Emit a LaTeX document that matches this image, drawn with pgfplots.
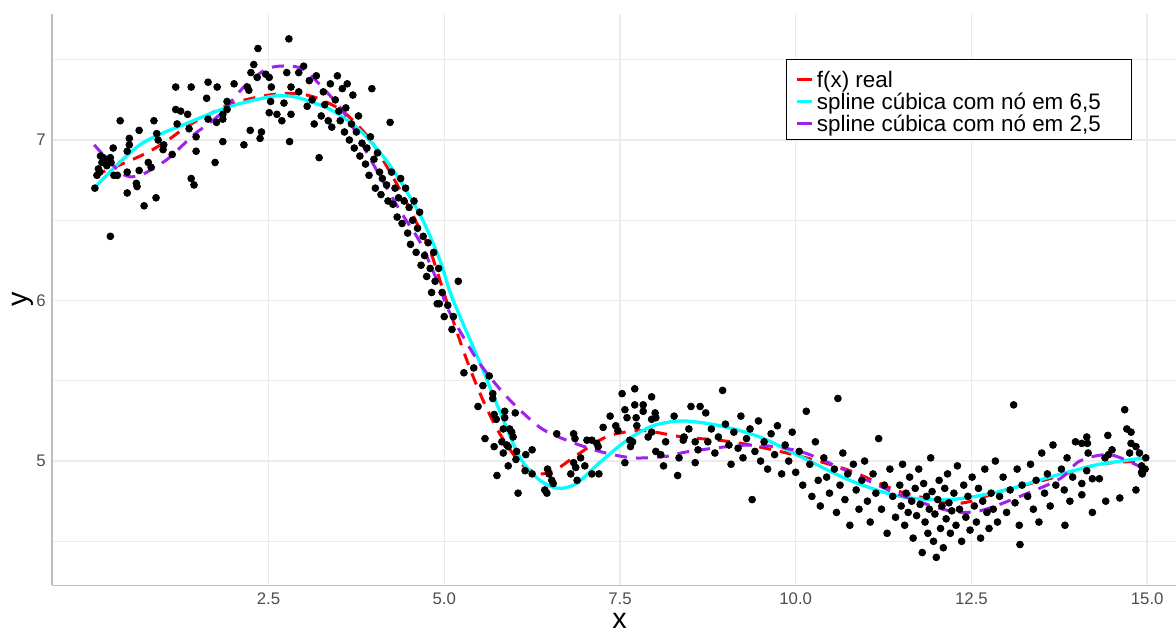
\documentclass[border=0pt]{standalone}
\usepackage{fontspec}
\setmainfont{Liberation Sans}
\usepackage{pgfplots}
\usepackage{pgfplotstable}
\pgfplotsset{compat=1.18}
\definecolor{gridmaj}{RGB}{235,235,235}
\definecolor{axisgray}{RGB}{190,190,190}
\definecolor{ticktext}{RGB}{77,77,77}
\definecolor{rpurple}{RGB}{160,32,240}
\definecolor{rcyan}{RGB}{0,255,255}
\definecolor{rred}{RGB}{255,0,0}

\pgfplotstableread{
x y
0.03 6.70
0.06 6.78
0.08 6.82
0.10 6.80
0.11 6.90
0.13 6.86
0.15 6.89
0.17 6.88
0.20 6.84
0.25 6.89
0.26 6.86
0.29 6.95
0.25 6.40
0.30 6.78
0.35 6.78
0.39 7.12
0.49 6.80
0.52 7.01
0.52 6.97
0.49 6.93
0.49 6.67
0.63 6.71
0.62 6.73
0.66 7.06
0.66 6.81
0.73 6.59
0.79 6.86
0.83 6.83
0.87 7.12
0.90 6.64
0.91 7.04
0.93 7.00
1.00 6.94
1.01 6.97
1.13 6.91
1.18 7.33
1.18 7.19
1.20 7.10
1.25 7.18
1.35 7.16
1.37 7.07
1.40 7.33
1.40 6.76
1.44 6.72
1.47 6.93
1.47 7.02
1.62 7.26
1.64 7.36
1.64 7.13
1.74 6.86
1.76 7.11
1.77 7.33
1.85 6.99
1.85 7.13
1.85 7.16
1.91 7.19
1.91 7.24
2.01 7.35
2.15 6.97
2.20 7.33
2.22 7.31
2.24 7.06
2.25 7.42
2.29 7.47
2.34 7.39
2.35 7.57
2.38 7.01
2.40 7.05
2.46 7.41
2.51 7.39
2.51 7.17
2.53 7.24
2.54 7.33
2.62 7.16
2.69 7.12
2.72 7.23
2.76 7.42
2.79 7.63
2.80 6.99
2.82 7.33
2.82 7.16
2.93 7.30
2.93 7.42
3.00 7.46
3.05 7.21
3.08 7.37
3.12 7.25
3.15 7.10
3.18 7.40
3.22 6.89
3.25 7.15
3.28 7.30
3.30 7.22
3.35 7.12
3.38 7.35
3.40 7.08
3.45 7.25
3.48 7.40
3.50 7.18
3.52 7.12
3.55 7.32
3.58 7.05
3.60 7.20
3.62 7.35
3.65 7.00
3.68 7.10
3.70 7.28
3.72 6.95
3.75 7.05
3.78 7.15
3.80 6.90
3.83 6.98
3.88 6.85
3.90 6.95
3.93 6.78
3.95 7.02
3.97 7.32
4.00 6.88
4.02 6.70
4.05 6.92
4.08 6.80
4.10 6.66
4.12 6.76
4.18 6.72
4.20 6.62
4.23 7.11
4.25 6.80
4.27 6.60
4.30 6.70
4.33 6.52
4.35 6.64
4.38 6.76
4.40 6.48
4.43 6.62
4.45 6.70
4.48 6.42
4.50 6.58
4.52 6.35
4.55 6.50
4.57 6.62
4.60 6.30
4.62 6.45
4.65 6.55
4.67 6.22
4.70 6.40
4.72 6.28
4.75 6.15
4.77 6.36
4.80 6.20
4.82 6.05
4.85 6.30
4.87 6.12
4.90 5.98
4.92 6.20
4.97 6.05
5.00 5.90
5.20 6.12
4.93 5.98
5.05 5.97
5.11 5.82
5.13 5.90
5.28 5.55
5.42 5.58
5.64 5.53
5.48 5.34
5.55 5.47
5.69 5.42
5.69 5.39
5.71 5.29
5.74 5.26
5.86 5.31
6.01 5.30
5.86 5.27
5.84 5.20
5.93 5.20
5.58 5.14
5.71 5.09
5.82 5.12
5.89 5.10
5.96 5.18
5.98 5.15
5.84 5.05
5.91 5.09
6.03 5.06
6.16 5.04
6.25 5.07
6.02 5.01
5.91 4.97
5.75 4.91
6.05 4.80
6.15 4.94
6.25 4.92
6.47 4.95
6.49 4.92
6.53 4.88
6.55 4.86
6.43 4.82
6.46 4.80
6.60 5.17
6.84 5.17
6.86 5.14
6.84 4.99
6.87 4.96
6.80 4.92
6.89 4.88
6.94 5.02
7.00 4.97
7.03 5.13
7.10 5.13
7.17 5.11
7.19 5.09
7.10 4.92
7.20 4.92
7.26 5.21
7.36 5.28
7.44 5.22
7.47 5.19
7.53 5.42
7.57 5.32
7.60 5.27
7.71 5.45
7.71 5.35
7.73 5.27
7.83 5.35
7.83 5.31
7.95 5.40
8.00 5.30
7.95 5.26
8.01 5.27
7.74 5.22
7.64 5.13
7.68 5.12
7.65 5.09
7.57 4.99
7.90 5.15
7.95 5.18
8.01 5.06
8.08 5.04
8.27 5.28
8.15 5.12
8.12 4.97
8.32 4.91
8.34 5.02
8.40 5.13
8.41 5.15
8.48 5.20
8.51 5.34
8.57 4.99
8.57 5.12
8.61 5.07
8.64 5.34
8.72 5.30
8.75 5.12
8.80 5.20
8.85 5.05
8.90 5.15
8.96 5.44
9.00 5.23
9.05 5.10
9.08 4.98
9.12 5.18
9.18 5.08
9.22 5.28
9.25 5.02
9.30 5.14
9.35 5.20
9.38 4.76
9.42 5.06
9.47 5.25
9.50 5.00
9.55 5.12
9.60 4.95
9.65 5.17
9.70 5.04
9.74 5.22
9.80 4.92
9.85 5.10
9.90 5.00
9.95 5.18
10.00 4.93
10.05 5.06
10.10 4.85
10.15 5.31
10.20 4.98
10.23 4.78
10.28 5.12
10.32 4.88
10.35 4.72
10.40 5.02
10.44 4.90
10.48 4.80
10.55 4.95
10.58 4.68
10.60 5.39
10.63 4.85
10.67 5.05
10.70 4.76
10.74 4.92
10.77 4.60
10.82 4.98
10.86 4.82
10.90 4.70
10.94 4.88
10.98 5.00
11.02 4.75
11.06 4.62
11.10 4.92
11.14 4.80
11.18 5.14
11.22 4.70
11.26 4.85
11.30 4.55
11.34 4.95
11.38 4.78
11.42 4.65
11.48 4.85
11.50 4.72
11.52 4.98
11.55 4.60
11.57 4.80
11.60 4.68
11.62 4.90
11.65 4.75
11.67 4.52
11.70 4.83
11.72 4.66
11.75 4.95
11.77 4.73
11.80 4.43
11.82 4.86
11.84 4.62
11.86 4.78
11.88 4.55
11.90 4.70
11.92 5.02
11.94 4.81
11.96 4.50
11.98 4.67
12.00 4.40
12.02 4.76
12.04 4.88
12.06 4.58
12.08 4.72
12.10 4.46
12.12 4.83
12.14 4.64
12.16 4.92
12.18 4.74
12.20 4.55
12.22 4.69
12.25 4.80
12.28 4.60
12.30 4.97
12.33 4.70
12.36 4.50
12.39 4.85
12.42 4.65
12.45 4.78
12.48 4.57
12.51 4.90
12.54 4.72
12.57 4.62
12.60 4.83
12.63 4.52
12.66 4.75
12.69 4.95
12.72 4.68
12.75 4.58
12.78 4.80
12.81 4.70
12.84 5.00
12.87 4.62
12.90 4.78
12.95 4.90
13.00 4.68
13.05 4.82
13.10 5.35
13.12 4.74
13.15 4.95
13.18 4.60
13.19 4.48
13.22 4.85
13.30 4.78
13.34 4.98
13.38 4.70
13.42 4.88
13.46 4.62
13.50 5.05
13.54 4.80
13.58 4.92
13.62 4.72
13.66 5.10
13.70 4.85
13.78 4.95
13.82 4.82
13.83 4.60
13.86 5.02
13.90 4.75
13.94 4.90
13.98 5.12
14.07 5.11
14.07 4.86
14.07 4.79
14.14 5.15
14.15 5.11
14.16 5.05
14.14 4.94
14.22 4.89
14.22 4.68
14.32 4.89
14.40 5.02
14.41 4.75
14.44 5.16
14.45 5.04
14.50 5.07
14.61 4.77
14.68 5.32
14.71 5.20
14.77 5.18
14.77 5.11
14.84 5.09
14.75 5.05
14.89 5.05
14.84 4.82
14.92 4.93
14.93 4.92
14.92 4.97
14.97 4.95
14.98 5.02
}\pts

\pgfplotstableread{
x y
0.02 6.78
0.36 6.84
0.77 6.92
1.07 7.00
1.36 7.09
1.70 7.17
2.00 7.23
2.50 7.28
2.90 7.29
3.20 7.26
3.52 7.19
3.75 7.10
3.95 7.00
4.15 6.86
4.37 6.69
4.60 6.49
4.80 6.31
5.06 5.96
5.32 5.63
5.55 5.38
5.79 5.17
6.08 4.99
6.35 4.92
6.60 4.95
6.83 5.02
7.21 5.13
7.45 5.17
7.83 5.19
8.39 5.15
8.90 5.13
9.35 5.10
10.06 5.03
10.77 4.94
11.48 4.81
12.19 4.74
12.50 4.75
12.90 4.81
13.61 4.89
14.32 4.98
14.96 5.00
}\freal

\pgfplotstableread{
x y
0.02 6.70
0.67 6.97
1.43 7.12
1.96 7.21
2.52 7.27
2.75 7.275
2.95 7.26
3.38 7.19
3.80 7.06
4.23 6.84
4.66 6.53
4.94 6.25
5.11 6.02
5.51 5.61
5.79 5.31
6.08 5.02
6.36 4.88
6.62 4.83
6.88 4.86
7.21 4.99
7.60 5.13
7.97 5.22
8.39 5.25
8.92 5.22
9.49 5.15
10.06 5.03
10.77 4.88
11.48 4.78
12.19 4.76
12.90 4.81
13.61 4.90
14.04 4.95
14.32 4.98
14.96 5.02
}\splineA

\pgfplotstableread{
x y
0.02 6.97
0.42 6.79
0.67 6.78
1.06 6.88
1.43 7.03
1.81 7.16
2.17 7.34
2.52 7.45
2.95 7.45
3.24 7.34
3.59 7.16
3.95 6.88
4.37 6.56
4.66 6.36
4.94 6.08
5.06 5.94
5.47 5.63
5.89 5.40
6.36 5.21
6.74 5.13
7.21 5.06
7.68 5.02
8.17 5.03
8.49 5.06
9.35 5.10
10.06 5.06
10.77 4.93
11.48 4.79
12.19 4.69
12.62 4.69
13.19 4.78
13.76 4.89
14.04 5.00
14.47 5.04
14.92 4.96
}\splineB

\begin{document}
\begin{tikzpicture}
\begin{axis}[
  at={(0,0)}, anchor=south west,
  scale only axis, width=562pt, height=285.65pt,
  xmin=-0.58, xmax=15.41, ymin=4.226, ymax=7.785,
  axis x line*=bottom, axis y line*=left,
  axis line style={draw=axisgray, line width=0.8pt, -},
  xtick={2.5,5,7.5,10,12.5,15},
  xticklabels={2.5,5.0,7.5,10.0,12.5,15.0},
  ytick={5,6,7}, minor ytick={4.5,5.5,6.5,7.5},
  major tick length=0pt, minor tick length=0pt,
  grid=both,
  major grid style={draw=gridmaj, line width=0.7pt},
  minor grid style={draw=gridmaj, line width=0.6pt},
  /pgf/number format/assume math mode=true,
  tick label style={font=\fontsize{8.4}{10}\selectfont, text=ticktext},
  xticklabel style={anchor=north, inner sep=0pt, yshift=-3.7pt},
  yticklabel style={anchor=east, inner sep=0pt, xshift=-3pt},
  xlabel={x}, ylabel={y},
  label style={font=\fontsize{14.4}{16}\selectfont},
  xlabel style={at={([yshift=-21.6pt]axis description cs:0.5049,0)}, anchor=base,
    inner sep=0pt, text height=7.6pt, text depth=0pt},
  ylabel style={at={([xshift=-12.35pt]axis description cs:0,0.5)}, anchor=base},
  legend style={at={(0.961,0.921)}, anchor=north east, draw=black, line width=0.6pt,
    fill=white, inner xsep=4.2pt, inner ysep=3.5pt, row sep=0pt, column sep=0pt,
    font=\fontsize{11.2}{11}\selectfont,
    nodes={inner xsep=0pt, inner ysep=0pt, text height=10.2pt, text depth=0.8pt},
    cells={anchor=west}},
  legend cell align=left,
  legend image code/.code={\draw[#1, solid, line width=1.5pt] (0pt,-0.8pt) -- (7.5pt,-0.8pt);},
]
\addplot[only marks, mark=*, mark size=1.7pt, draw=black, fill=black, forget plot] table {\pts};
\addplot[rred, line width=1.5pt, dash pattern=on 6pt off 4.5pt, smooth] table {\freal};
\addlegendentry{\makebox[155pt][l]{\,f(x) real}}
\addplot[rcyan, line width=1.65pt, smooth] table {\splineA};
\addlegendentry{\makebox[155pt][l]{\,spline cúbica com nó em 6,5}}
\addplot[rpurple, line width=1.5pt, dash pattern=on 6pt off 4.5pt, smooth] table {\splineB};
\addlegendentry{\makebox[155pt][l]{\,spline cúbica com nó em 2,5}}
\end{axis}
\pgfresetboundingbox
\useasboundingbox (-26pt,-23.35pt) rectangle (562pt,292.65pt);
\end{tikzpicture}
\end{document}
